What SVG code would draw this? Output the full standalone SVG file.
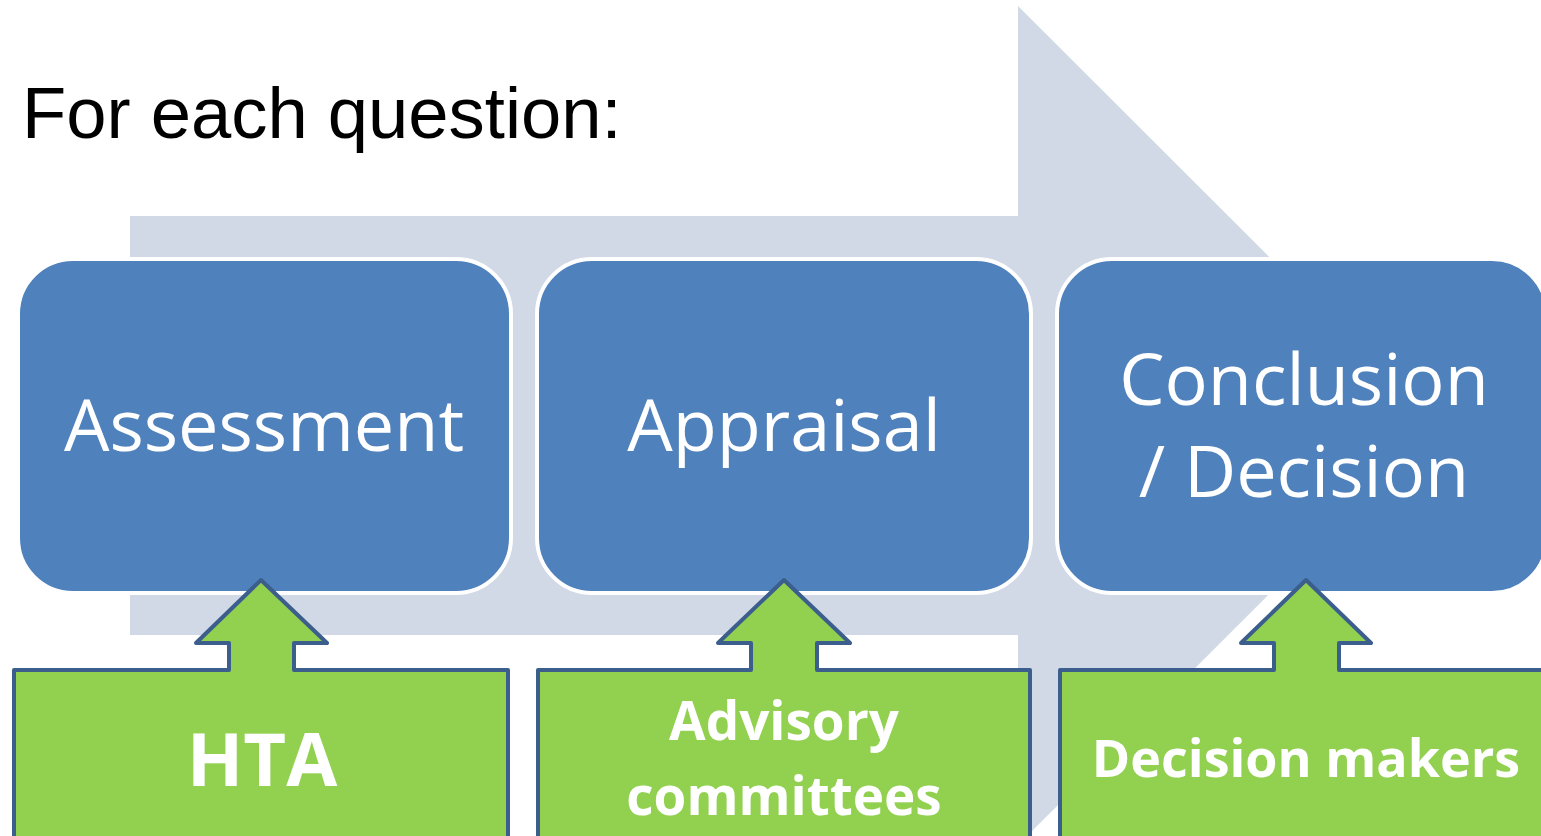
<svg xmlns="http://www.w3.org/2000/svg" width="1541" height="836" viewBox="0 0 1541 836">
<style>
.bg{fill:#D1D8E6}
.blue{fill:#4F81BD;stroke:#FFFFFF;stroke-width:4}
.green{fill:#92D050;stroke:#3B5E8C;stroke-width:4;stroke-linejoin:round}
.lbl{font-family:"Open Sans","Noto Sans",sans-serif;fill:#FFFFFF;text-anchor:middle}
.glbl{font-family:"Open Sans","Noto Sans",sans-serif;fill:#FFFFFF;text-anchor:middle;font-weight:bold}
</style>
<rect width="1541" height="836" fill="#FFFFFF"/>
<path class="bg" d="M130,216 H1018 V6 L1438,425.5 L1018,845 V635 H130 Z"/>
<text x="22" y="138" font-family="Liberation Sans, Arial, sans-serif" font-size="72.4" fill="#000000">For each question:</text>
<g id="assessment">
<rect class="blue" x="18" y="259" width="493" height="334" rx="55"/>
<text class="lbl" x="264" y="451" font-size="72">Assessment</text>
</g>
<g id="appraisal">
<rect class="blue" x="537" y="259" width="494" height="334" rx="55"/>
<text class="lbl" x="784" y="451" font-size="72">Appraisal</text>
</g>
<g id="conclusion">
<rect class="blue" x="1057" y="259" width="490" height="334" rx="55"/>
<text class="lbl" x="1304" y="405" font-size="72">Conclusion</text>
<text class="lbl" x="1304" y="497" font-size="72">/ Decision</text>
</g>
<g id="connectors">
<path class="green" d="M14,670 H229 V643 H196 L261,580 L327,643 H294 V670 H508 V850 H14 Z"/>
<path class="green" d="M538,670 H751 V643 H718 L784,580 L850,643 H817 V670 H1030 V850 H538 Z"/>
<path class="green" d="M1060,670 H1274 V643 H1241 L1306,580 L1371,643 H1339 V670 H1560 V850 H1060 Z"/>
</g>
<g id="hta">
<text class="glbl" x="262" y="786" font-size="74">HTA</text>
</g>
<g id="advisory">
<text class="glbl" x="784" y="740" font-size="53">Advisory</text>
<text class="glbl" x="784" y="815" font-size="53">committees</text>
</g>
<g id="decisionmakers">
<text class="glbl" x="1306" y="777" font-size="52">Decision makers</text>
</g>
</svg>
